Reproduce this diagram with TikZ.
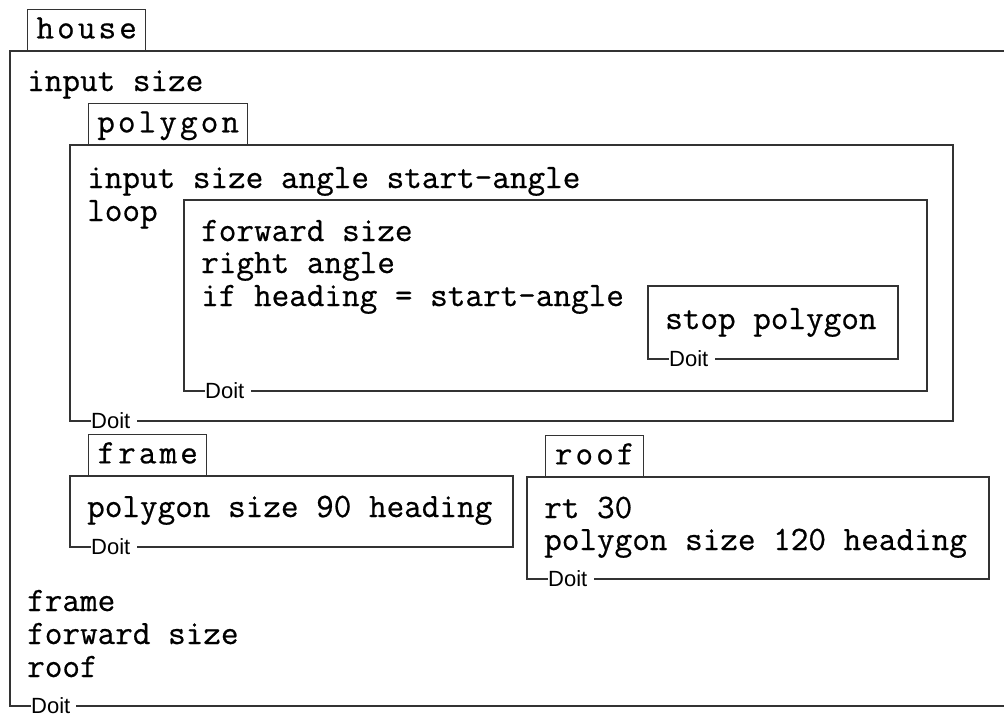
\documentclass[tikz,border=0pt]{standalone}
\usepackage{fontspec}
\setmainfont{Liberation Serif}
\newfontfamily\codefont[FakeBold=0.6]{Latin Modern Mono}
\newfontfamily\tabfont[LetterSpace=9,FakeBold=0.6]{Latin Modern Mono}
\newfontfamily\doitfont{Liberation Sans}
\begin{document}
\begin{tikzpicture}[x=1pt,y=-1pt,
  box/.style={line width=1.3pt, draw=black!80, line cap=rect},
  code/.style={font=\codefont\fontsize{34.2}{36}\selectfont, anchor=base west, inner sep=0pt, text=black},
  tabnode/.style={draw=black!80, line width=1.3pt, font=\tabfont\fontsize{34.2}{36}\selectfont,
    anchor=south west, inner xsep=0pt, inner ysep=0pt, text height=29pt, text depth=12pt, text=black},
  doit/.style={font=\doitfont\fontsize{22}{22}\selectfont, inner sep=0pt, anchor=west, text=black}
]
\useasboundingbox (0,0) rectangle (1004,715);

% ---------------- house ----------------
\node[tabnode, minimum width=118pt] (tHouse) at (27,51) {house};
\draw[box] (1004,51) -- (10,51) -- (10,706) -- (30,706);
\node[doit] (dHouse) at (31,706) {Doit};
\draw[box] (dHouse.east) ++(6,0) -- (1004,706);
\node[code] (h1) at (27,91) {input size};
\node[code] (h2) at (27,611) {frame};
\node[code] (h3) at (27,644) {forward size};
\node[code] (h4) at (27,677) {roof};

% ---------------- polygon ----------------
\node[tabnode, minimum width=159pt] (tPoly) at (88,145) {polygon};
\draw[box] (953,421) -- (953,145) -- (70,145) -- (70,421) -- (90,421);
\node[doit] (dPoly) at (91,421) {Doit};
\draw[box] (dPoly.east) ++(7,0) -- (953,421);
\node[code] (p1) at (87,188) {input size angle start-angle};
\node[code] (p2) at (87,221) {loop};

% ---------------- loop ----------------
\draw[box] (927,391) -- (927,200) -- (184,200) -- (184,391) -- (204,391);
\node[doit] (dLoop) at (205,391) {Doit};
\draw[box] (dLoop.east) ++(7,0) -- (927,391);
\node[code] (l1) at (201,241) {forward size};
\node[code] (l2) at (201,273) {right angle};
\node[code] (l3) at (201,306) {if heading = start-angle};

% ---------------- stop ----------------
\draw[box] (898,359) -- (898,286) -- (648,286) -- (648,359) -- (668,359);
\node[doit] (dStop) at (669,359) {Doit};
\draw[box] (dStop.east) ++(7,0) -- (898,359);
\node[code] (s1) at (665,329) {stop polygon};

% ---------------- frame ----------------
\node[tabnode, minimum width=118pt] (tFrame) at (88,476) {frame};
\draw[box] (513,547) -- (513,476) -- (70,476) -- (70,547) -- (90,547);
\node[doit] (dFrame) at (91,547) {Doit};
\draw[box] (dFrame.east) ++(7,0) -- (513,547);
\node[code] (f1) at (87,517) {polygon size 90 heading};

% ---------------- roof ----------------
\node[tabnode, minimum width=98pt] (tRoof) at (545,477) {roof};
\draw[box] (989,579) -- (989,477) -- (527,477) -- (527,579) -- (547,579);
\node[doit] (dRoof) at (548,579) {Doit};
\draw[box] (dRoof.east) ++(7,0) -- (989,579);
\node[code] (r1) at (544,518) {rt 30};
\node[code] (r2) at (544,550) {polygon size 120 heading};
\end{tikzpicture}
\end{document}
